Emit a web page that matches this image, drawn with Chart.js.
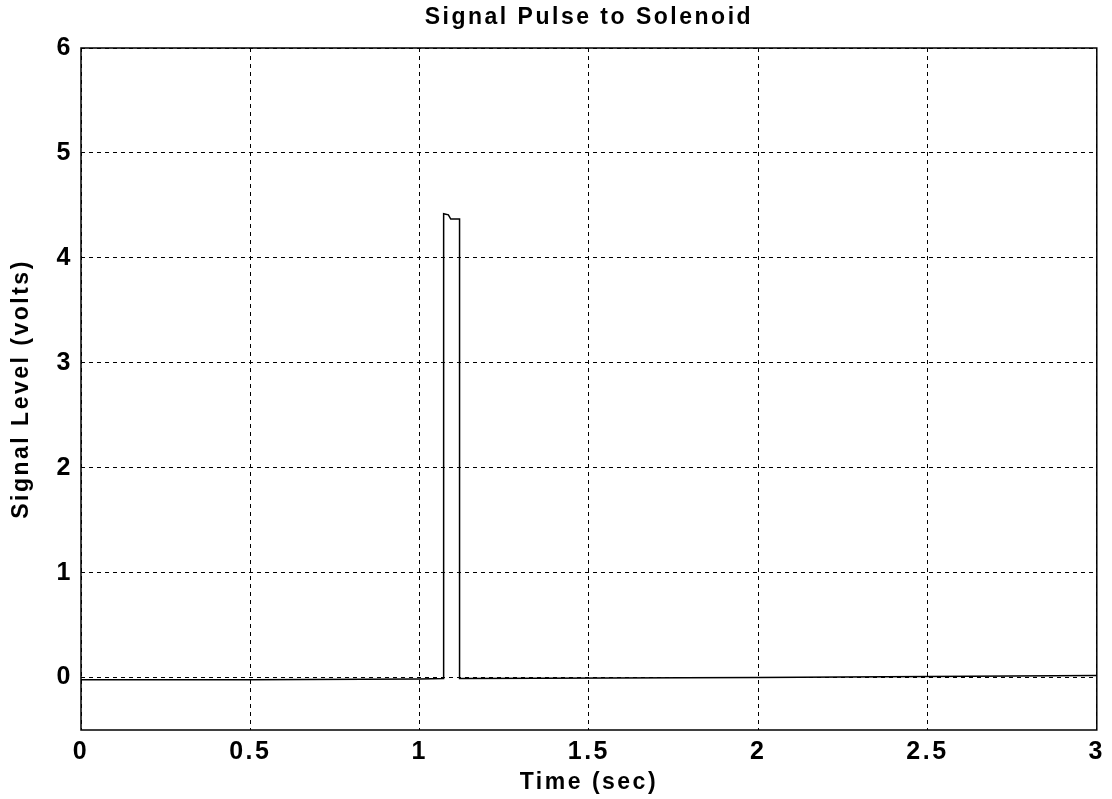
<!DOCTYPE html>
<html>
<head>
<meta charset="utf-8">
<title>Signal Pulse to Solenoid</title>
<script src="https://cdn.jsdelivr.net/npm/chart.js@4.4.1/dist/chart.umd.min.js"></script>
<style>
    html, body { margin: 0; padding: 0; background: #fff; }
    #wrap { width: 1112px; height: 799px; }
</style>
</head>
<body>
<div id="wrap"><canvas id="pulse-chart" width="1112" height="799"></canvas></div>
<script>
// --- Dane ---
const timeSec = [0, 0.5, 1.0, 1.071, 1.071, 1.085, 1.092, 1.118, 1.118, 1.13, 2.0, 3.0];
const signalVolts = [-0.02, -0.02, -0.015, -0.01, 4.42, 4.41, 4.37, 4.37, -0.01, -0.01, 0.0, 0.02];
const xTicks = [0, 0.5, 1, 1.5, 2, 2.5, 3];
const yTicks = [0, 1, 2, 3, 4, 5, 6];
const chartTitle = 'Signal Pulse to Solenoid';

const points = timeSec.map((t, i) => ({ x: t, y: signalVolts[i] }));
const fontFamily = '"Liberation Sans", Arial, Helvetica, sans-serif';

// Szeroki odstęp liter jak w starym wydruku MATLAB
const spacingPlugin = {
    id: 'letterSpacing',
    beforeLayout(chart) { chart.ctx.letterSpacing = '2.5px'; },
    beforeDraw(chart) { chart.ctx.letterSpacing = '2.5px'; }
};

// Tytuł wyśrodkowany nad obszarem wykresu + obramowanie
const framePlugin = {
    id: 'frame',
    afterDraw(chart) {
        const { ctx, chartArea: a } = chart;
        ctx.save();
        ctx.strokeStyle = '#000';
        ctx.lineWidth = 1.5;
        ctx.strokeRect(a.left, a.top, a.right - a.left, a.bottom - a.top);

        ctx.letterSpacing = '2.5px';
        ctx.fillStyle = '#000';
        ctx.font = `bold 23px ${fontFamily}`;
        ctx.textAlign = 'center';
        ctx.textBaseline = 'middle';
        ctx.fillText(chartTitle, (a.left + a.right) / 2, 18);
        ctx.restore();
    }
};

const gridStyle = {
    color: '#000',
    lineWidth: 1,
    drawTicks: false
};

new Chart(document.getElementById('pulse-chart').getContext('2d'), {
    type: 'scatter',
    data: {
        datasets: [{
            data: points,
            showLine: true,
            borderColor: '#000',
            borderWidth: 1.5,
            pointRadius: 0,
            tension: 0
        }]
    },
    options: {
        responsive: false,
        animation: false,
        devicePixelRatio: 1,
        layout: { padding: { top: 48, right: 14, bottom: 0, left: 0 } },
        plugins: {
            legend: { display: false },
            tooltip: { enabled: false },
            title: { display: false }
        },
        scales: {
            x: {
                type: 'linear',
                min: 0,
                max: 3,
                afterFit: scale => { scale.height = 69; },
                afterBuildTicks: scale => { scale.ticks = xTicks.map(v => ({ value: v })); },
                grid: gridStyle,
                border: { display: false, dash: [4, 4] },
                ticks: {
                    color: '#000',
                    padding: 7,
                    maxRotation: 0,
                    font: { family: fontFamily, size: 25, weight: 'bold' },
                    callback: v => String(v)
                },
                title: {
                    display: true,
                    text: 'Time (sec)',
                    color: '#000',
                    font: { family: fontFamily, size: 23, weight: 'bold', lineHeight: 1.2 },
                    padding: { top: 0, bottom: 3 }
                }
            },
            y: {
                min: -0.5,
                max: 6,
                afterFit: scale => { scale.width = 81; },
                afterBuildTicks: scale => { scale.ticks = yTicks.map(v => ({ value: v })); },
                grid: gridStyle,
                border: { display: false, dash: [4, 4] },
                ticks: {
                    color: '#000',
                    padding: 8,
                    font: { family: fontFamily, size: 25, weight: 'bold' },
                    callback: v => String(v)
                },
                title: {
                    display: true,
                    text: 'Signal Level (volts)',
                    color: '#000',
                    font: { family: fontFamily, size: 23, weight: 'bold', lineHeight: 1.2 },
                    padding: { top: 8, bottom: 0 }
                }
            }
        }
    },
    plugins: [spacingPlugin, framePlugin]
});
</script>
</body>
</html>
